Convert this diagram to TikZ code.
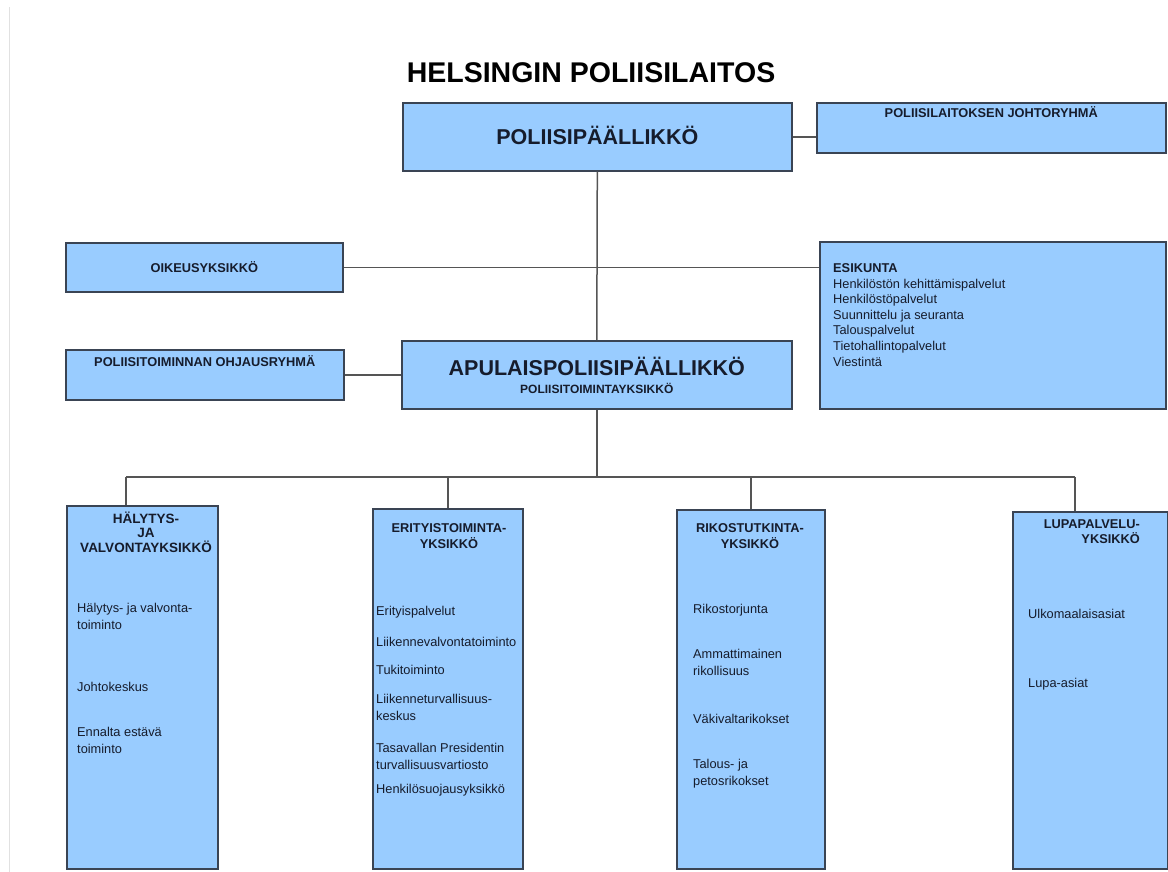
\documentclass[tikz,border=0pt]{standalone}
\usepackage{fontspec}
\setmainfont{Liberation Sans}
\usetikzlibrary{positioning,calc}
\definecolor{hpBlue}{RGB}{153,204,255}
\definecolor{hpEdge}{RGB}{58,68,84}
\definecolor{hpLine}{RGB}{85,85,85}
\definecolor{hpText}{RGB}{22,28,44}
\definecolor{hpPage}{RGB}{225,225,225}

\tikzset{
  unitbox/.style={draw=hpEdge, fill=hpBlue, line width=1.6pt, inner sep=0pt, anchor=north west},
  link/.style={draw=hpLine, line width=1.5pt},
  headline/.style={font=\bfseries\fontsize{28.5}{31}\selectfont, text=black, inner sep=0pt},
  bigcap/.style={font=\bfseries\fontsize{21.5}{24}\selectfont, text=hpText, inner sep=0pt, anchor=base},
  unitcap/.style={font=\bfseries\fontsize{12.8}{14.5}\selectfont, text=hpText, inner sep=0pt, align=center, anchor=base},
  item/.style={font=\fontsize{12.8}{17}\selectfont, text=hpText, inner sep=0pt, align=left, anchor=base west},
}

\begin{document}
\begin{tikzpicture}[x=1pt, y=-1pt]
  \useasboundingbox (0,0) rectangle (1168,872);
  \draw[hpPage, line width=1pt] (9,7) -- (9,872);

  % Title
  \node[headline, anchor=base] (title) at (591,83) {HELSINGIN POLIISILAITOS};

  % Boxes
  \node[unitbox, minimum width=389pt, minimum height=68pt] (chief) at (402,102) {};
  \node[unitbox, minimum width=349pt, minimum height=50pt] (board) at (816,102) {};
  \node[unitbox, minimum width=277pt, minimum height=49pt] (legal) at (65,242) {};
  \node[unitbox, minimum width=346pt, minimum height=167pt] (staff) at (819,241) {};
  \node[unitbox, minimum width=278pt, minimum height=50pt] (steering) at (65,349) {};
  \node[unitbox, minimum width=390pt, minimum height=68pt] (deputy) at (401,340) {};
  \node[unitbox, minimum width=151pt, minimum height=363pt] (alarm) at (66,505) {};
  \node[unitbox, minimum width=150pt, minimum height=360pt] (special) at (372,508) {};
  \node[unitbox, minimum width=148pt, minimum height=359pt] (crime) at (676,509) {};
  \node[unitbox, minimum width=155pt, minimum height=357pt] (permit) at (1012,511) {};

  % Box texts (multi-line nodes sit on their last baseline)
  \node[bigcap] (chiefT) at ([yshift=-43pt]chief.north) {POLIISIPÄÄLLIKKÖ};
  \node[unitcap] (boardT) at ([yshift=-16pt]board.north) {POLIISILAITOKSEN JOHTORYHMÄ};
  \node[unitcap] (legalT) at ([yshift=-30pt]legal.north) {OIKEUSYKSIKKÖ};
  \node[unitcap] (steeringT) at ([yshift=-17pt]steering.north) {POLIISITOIMINNAN OHJAUSRYHMÄ};
  \node[bigcap] (deputyT) at ([yshift=-35pt]deputy.north) {APULAISPOLIISIPÄÄLLIKKÖ};
  \node[unitcap, font=\bfseries\fontsize{12}{14}\selectfont] (deputyS) at ([yshift=-53pt]deputy.north) {POLIISITOIMINTAYKSIKKÖ};
  \node[item, font=\fontsize{12.8}{15.6}\selectfont] (staffT) at (833,366)
    {\textbf{ESIKUNTA}\\Henkilöstön kehittämispalvelut\\Henkilöstöpalvelut\\Suunnittelu ja seuranta\\Talouspalvelut\\Tietohallintopalvelut\\Viestintä};

  % Units
  \node[unitcap, font=\bfseries\fontsize{13.5}{14.5}\selectfont] (alarmT) at (146,552) {HÄLYTYS-\\JA\\VALVONTAYKSIKKÖ};
  \node[item] (alarmA) at (77,629) {Hälytys- ja valvonta-\\toiminto};
  \node[item] (alarmB) at (77,691) {Johtokeskus};
  \node[item, font=\fontsize{12.8}{16.5}\selectfont] (alarmC) at (77,753) {Ennalta estävä\\toiminto};

  \node[unitcap, font=\bfseries\fontsize{12.8}{16}\selectfont] (specialT) at (449,548) {ERITYISTOIMINTA-\\YKSIKKÖ};
  \node[item] (specialA) at (376,615) {Erityispalvelut};
  \node[item] (specialB) at (376,646) {Liikennevalvontatoiminto};
  \node[item] (specialC) at (376,674) {Tukitoiminto};
  \node[item] (specialD) at (376,720) {Liikenneturvallisuus-\\keskus};
  \node[item] (specialE) at (376,769) {Tasavallan Presidentin\\turvallisuusvartiosto};
  \node[item] (specialF) at (376,793) {Henkilösuojausyksikkö};

  \node[unitcap, font=\bfseries\fontsize{12.8}{16}\selectfont] (crimeT) at (750,548) {RIKOSTUTKINTA-\\YKSIKKÖ};
  \node[item] (crimeA) at (693,613) {Rikostorjunta};
  \node[item, font=\fontsize{12.8}{17.5}\selectfont] (crimeB) at (693,675.5) {Ammattimainen\\rikollisuus};
  \node[item] (crimeC) at (693,723) {Väkivaltarikokset};
  \node[item] (crimeD) at (693,785) {Talous- ja\\petosrikokset};

  \node[unitcap, align=right, anchor=base east, font=\bfseries\fontsize{12.8}{15.5}\selectfont] (permitT) at (1140,543.5) {LUPAPALVELU-\\YKSIKKÖ};
  \node[item] (permitA) at (1028,618) {Ulkomaalaisasiat};
  \node[item] (permitB) at (1028,687) {Lupa-asiat};

  % Connectors
  \coordinate (busW) at (126,477);
  \coordinate (busE) at (1075,477);
  \draw[link] (chief.east) -- (chief.east -| board.west);
  \draw[link] (chief.south) -- (deputy.north);
  \draw[link] (legal.east) -- (legal.east -| staff.west);
  \draw[link] (steering.east) -- (steering.east -| deputy.west);
  \draw[link] (deputy.south) -- (deputy.south |- busW);
  \draw[link] (busW) -- (busE);
  \draw[link] (busW) -- (busW |- alarm.north);
  \draw[link] (special.north |- busW) -- (special.north);
  \draw[link] (crime.north |- busW) -- (crime.north);
  \draw[link] (busE) -- (busE |- permit.north);
\end{tikzpicture}
\end{document}
